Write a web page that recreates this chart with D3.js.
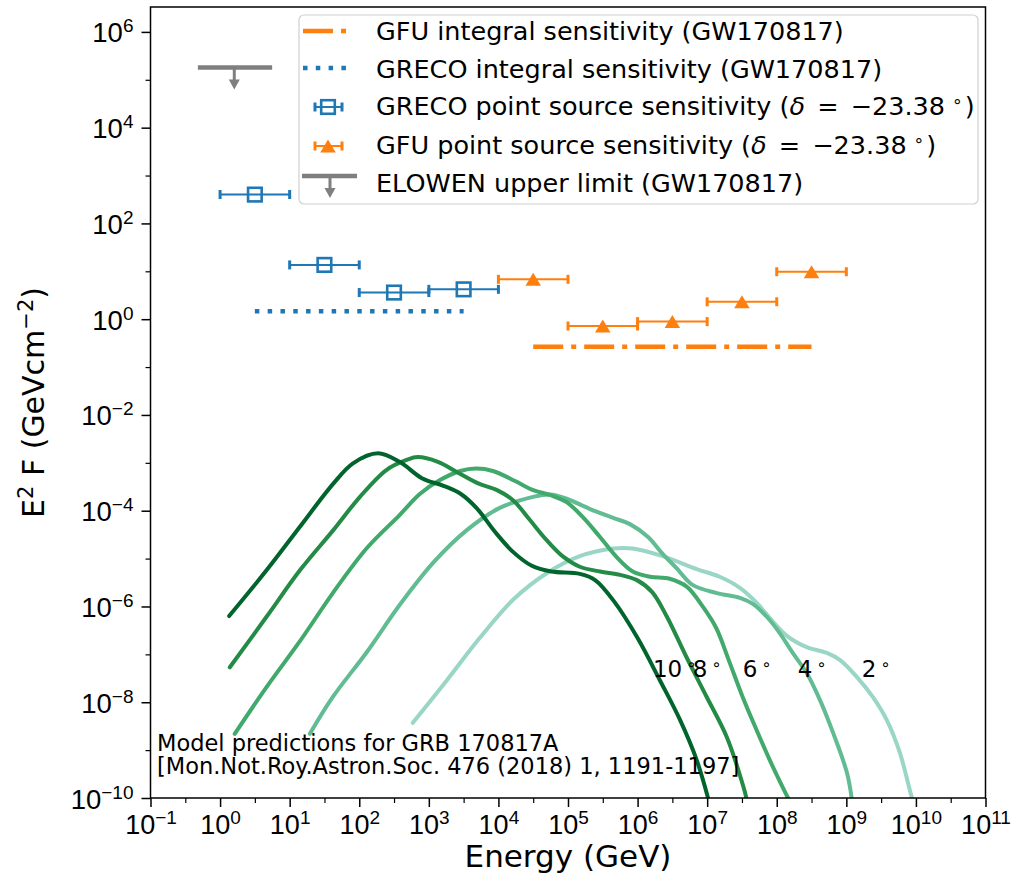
<!DOCTYPE html>
<html>
<head>
<meta charset="utf-8">
<script src="https://cdn.jsdelivr.net/npm/d3@7"></script>
<style>
  html, body { margin: 0; padding: 0; background: #fff; }
  svg { display: block; font-family: "DejaVu Sans", sans-serif; }
</style>
</head>
<body>
<svg id="chart" width="1013" height="878"></svg>
<script>
// ---- Model predictions for GRB 170817A, E^2 F versus energy, per viewing angle.
// Values are stored as log10(E / GeV) and log10(E^2 F / GeV cm^-2).
const angleDeg = [10, 8, 6, 4, 2];

const logE_10 = [0.13, 0.67, 1.15, 1.63, 1.91, 2.27, 2.58, 2.90, 3.21, 3.45, 3.69, 3.95, 4.21, 4.48, 4.76, 5.17, 5.39, 5.67, 6.00, 6.32, 6.61, 6.85, 7.02];
const logF_10 = [-6.20, -5.24, -4.33, -3.43, -3.01, -2.80, -2.98, -3.32, -3.48, -3.64, -3.95, -4.44, -4.86, -5.15, -5.27, -5.32, -5.45, -5.91, -6.66, -7.54, -8.37, -9.21, -10.04];

const logE_8 = [0.14, 0.67, 1.15, 1.63, 2.01, 2.39, 2.68, 2.84, 3.13, 3.40, 3.71, 3.98, 4.21, 4.45, 4.69, 4.93, 5.17, 5.46, 5.75, 5.99, 6.21, 6.42, 6.70, 6.99, 7.28, 7.52, 7.57];
const logF_8 = [-7.27, -6.21, -5.24, -4.40, -3.71, -3.15, -2.94, -2.88, -2.98, -3.19, -3.43, -3.57, -3.78, -4.19, -4.61, -4.96, -5.17, -5.27, -5.34, -5.45, -5.70, -6.21, -7.05, -7.88, -8.72, -9.76, -10.04];

const logE_6 = [0.21, 0.67, 1.15, 1.62, 2.11, 2.58, 2.87, 3.16, 3.45, 3.68, 3.92, 4.24, 4.50, 4.74, 4.98, 5.21, 5.46, 5.70, 5.93, 6.18, 6.46, 6.71, 6.94, 7.13, 7.31, 7.51, 7.71, 7.90, 8.07, 8.19];
const logF_6 = [-8.66, -7.68, -6.72, -5.72, -4.78, -4.09, -3.65, -3.36, -3.17, -3.12, -3.17, -3.38, -3.57, -3.67, -3.82, -4.13, -4.55, -4.97, -5.27, -5.38, -5.42, -5.59, -6.01, -6.45, -7.12, -7.89, -8.58, -9.21, -9.73, -10.08];

const logE_4 = [1.29, 1.62, 2.11, 2.58, 3.06, 3.55, 4.02, 4.50, 4.74, 4.98, 5.31, 5.65, 5.89, 6.15, 6.36, 6.56, 6.79, 7.14, 7.47, 7.66, 7.86, 8.04, 8.23, 8.43, 8.62, 8.81, 9.01, 9.08];
const logF_4 = [-8.66, -7.89, -6.95, -5.97, -5.09, -4.40, -3.94, -3.71, -3.66, -3.75, -3.96, -4.15, -4.28, -4.55, -4.90, -5.20, -5.55, -5.72, -5.82, -5.95, -6.22, -6.55, -6.97, -7.39, -7.95, -8.64, -9.48, -10.04];

const logE_2 = [2.77, 3.26, 3.73, 4.21, 4.70, 5.17, 5.65, 5.93, 6.36, 6.85, 7.18, 7.47, 7.71, 7.94, 8.15, 8.43, 8.72, 8.91, 9.15, 9.38, 9.58, 9.77, 9.94, 9.97];
const logF_2 = [-8.43, -7.54, -6.66, -5.86, -5.30, -4.95, -4.79, -4.79, -4.95, -5.22, -5.38, -5.61, -5.92, -6.31, -6.62, -6.85, -6.97, -7.12, -7.47, -7.89, -8.37, -9.06, -9.98, -10.10];

const curveColors = ["#00642c", "#238b45", "#41a96b", "#62bc93", "#9ad6c5"];

// Where each angle label sits (energy in GeV, E^2F in GeV cm^-2)
const angleLabelE = [1.66e6, 6.2e6, 3.24e7, 2.0e8, 1.66e9];
const angleLabelF = 3.4e-8;

// ---- IceCube sensitivities (GW170817)
const grecoLo = [1, 10, 100, 1000];
const grecoHi = [10, 100, 1000, 10000];
const grecoE  = [3.16, 31.6, 316, 3162];
const grecoF  = [400, 13.6, 3.6, 4.2];

const gfuLo = [1e4, 1e5, 1e6, 1e7, 1e8];
const gfuHi = [1e5, 1e6, 1e7, 1e8, 1e9];
const gfuE  = [3.16e4, 3.16e5, 3.16e6, 3.16e7, 3.16e8];
const gfuF  = [6.8, 0.72, 0.89, 2.3, 9.8];

const grecoIntegralE = [3.16, 3162];
const grecoIntegralF = 1.47;
const gfuIntegralE = [3.16e4, 3.16e8];
const gfuIntegralF = 0.267;

const elowenLo = 0.48, elowenHi = 5.6, elowenE = 1.6, elowenF = 1.8e5;

// ---- Axis ticks (decade exponents)
const xTickExp = [-1, 0, 1, 2, 3, 4, 5, 6, 7, 8, 9, 10, 11];
const yTickExp = [-10, -8, -6, -4, -2, 0, 2, 4, 6];
const yMinorExp = [-9, -7, -5, -3, -1, 1, 3, 5];

const legendLabels = [
  "GFU integral sensitivity (GW170817)",
  "GRECO integral sensitivity (GW170817)",
  "GRECO point source sensitivity",
  "GFU point source sensitivity",
  "ELOWEN upper limit (GW170817)"
];

// ---- Colours
const BLUE = "#1f77b4", ORANGE = "#ff7f0e", GRAY = "#7f7f7f";

// ---- Layout
const svg = d3.select("#chart");
const L = 150.5, R = 985.5, T = 7, B = 798;
const x = d3.scaleLog().domain([1e-1, 1e11]).range([L, R]);
const y = d3.scaleLog().domain([1e-10, Math.pow(10, 6.52)]).range([B, T]);

svg.append("defs").append("clipPath").attr("id", "plotClip")
  .append("rect").attr("x", L).attr("y", T).attr("width", R - L).attr("height", B - T);

const plot = svg.append("g").attr("clip-path", "url(#plotClip)");

// ---- Model curves
const curveSets = [
  [logE_10, logF_10], [logE_8, logF_8], [logE_6, logF_6], [logE_4, logF_4], [logE_2, logF_2]
];
const line = d3.line()
  .x(d => x(Math.pow(10, d[0])))
  .y(d => y(Math.pow(10, d[1])))
  .curve(d3.curveCatmullRom.alpha(0.5));

curveSets.map((c, i) => ({ pts: c[0].map((e, k) => [e, c[1][k]]), i }))
  .reverse()
  .forEach(({ pts, i }) => {
    plot.append("path")
      .attr("d", line(pts))
      .attr("fill", "none")
      .attr("stroke", curveColors[i])
      .attr("stroke-width", 4)
      .attr("stroke-linecap", "round")
      .attr("stroke-linejoin", "round");
  });

// ---- Integral sensitivities
plot.append("line")
  .attr("x1", x(grecoIntegralE[0])).attr("x2", x(grecoIntegralE[1]))
  .attr("y1", y(grecoIntegralF)).attr("y2", y(grecoIntegralF))
  .attr("stroke", BLUE).attr("stroke-width", 4.5).attr("stroke-dasharray", "4.5,8.3");

plot.append("line")
  .attr("x1", x(gfuIntegralE[0])).attr("x2", x(gfuIntegralE[1]))
  .attr("y1", y(gfuIntegralF)).attr("y2", y(gfuIntegralF))
  .attr("stroke", ORANGE).attr("stroke-width", 4.5).attr("stroke-dasharray", "30,8,5,8");

// ---- Error-bar helpers
function hErrorBar(g, x1, x2, yy, color) {
  g.append("line").attr("x1", x1).attr("x2", x2).attr("y1", yy).attr("y2", yy)
    .attr("stroke", color).attr("stroke-width", 2);
  [x1, x2].forEach(cx => g.append("line")
    .attr("x1", cx).attr("x2", cx).attr("y1", yy - 4.5).attr("y2", yy + 4.5)
    .attr("stroke", color).attr("stroke-width", 3));
}
function squareMark(g, cx, cy, color) {
  g.append("rect").attr("x", cx - 6.8).attr("y", cy - 6.8).attr("width", 13.6).attr("height", 13.6)
    .attr("fill", "none").attr("stroke", color).attr("stroke-width", 2.6);
}
function triangleMark(g, cx, cy, color) {
  const h = 13, w = 15.5;
  g.append("path")
    .attr("d", `M${cx},${cy - h / 2}L${cx + w / 2},${cy + h / 2}L${cx - w / 2},${cy + h / 2}Z`)
    .attr("fill", color);
}
function upperLimit(g, x1, x2, cx, cy, color) {
  g.append("line").attr("x1", x1).attr("x2", x2).attr("y1", cy).attr("y2", cy)
    .attr("stroke", color).attr("stroke-width", 4.5);
  g.append("line").attr("x1", cx).attr("x2", cx).attr("y1", cy).attr("y2", cy + 14)
    .attr("stroke", color).attr("stroke-width", 3);
  g.append("path").attr("d", `M${cx - 5.5},${cy + 12}L${cx + 5.5},${cy + 12}L${cx},${cy + 22}Z`)
    .attr("fill", color);
}

// ---- GRECO point source sensitivity
grecoE.forEach((e, i) => {
  hErrorBar(plot, x(grecoLo[i]), x(grecoHi[i]), y(grecoF[i]), BLUE);
  squareMark(plot, x(e), y(grecoF[i]), BLUE);
});

// ---- GFU point source sensitivity
gfuE.forEach((e, i) => {
  hErrorBar(plot, x(gfuLo[i]), x(gfuHi[i]), y(gfuF[i]), ORANGE);
  triangleMark(plot, x(e), y(gfuF[i]), ORANGE);
});

// ---- ELOWEN upper limit
upperLimit(plot, x(elowenLo), x(elowenHi), x(elowenE), y(elowenF), GRAY);

// ---- Angle labels
angleDeg.forEach((a, i) => {
  const t = svg.append("text")
    .attr("x", x(angleLabelE[i])).attr("y", y(angleLabelF))
    .attr("font-size", 23).attr("fill", "#000");
  t.append("tspan").text(String(a));
  t.append("tspan").attr("dx", 4).attr("dy", -7).attr("font-size", 16).text("\u2218");
});

// ---- Reference annotation
const note = svg.append("text").attr("x", 157).attr("y", 751).attr("font-size", 22.5).attr("fill", "#000");
note.append("tspan").attr("x", 157).text("Model predictions for GRB 170817A");
note.append("tspan").attr("x", 157).attr("dy", 23).text("[Mon.Not.Roy.Astron.Soc. 476 (2018) 1, 1191-1197]");

// ---- Axes
const fmtExp = p => (p < 0 ? "\u2212" + Math.abs(p) : String(p));

const gx = svg.append("g").attr("transform", `translate(0,${B})`)
  .call(d3.axisBottom(x).tickValues(xTickExp.map(p => Math.pow(10, p))).tickSize(9).tickFormat(() => ""));
gx.select(".domain").remove();
gx.selectAll(".tick line").attr("stroke", "#000").attr("stroke-width", 1.5);
gx.selectAll(".tick text").remove();
gx.selectAll(".tick").each(function (d, i) {
  const t = d3.select(this).append("text").attr("y", 36).attr("text-anchor", "middle")
    .attr("font-size", 27).attr("fill", "#000");
  t.append("tspan").text("10");
  t.append("tspan").attr("dy", -10).attr("font-size", 19).text(fmtExp(xTickExp[i]));
});

const gxm = svg.append("g").attr("transform", `translate(0,${B})`)
  .call(d3.axisBottom(x).tickValues(xTickExp.slice(0, -1).map(p => Math.pow(10, p + 0.5))).tickSize(5).tickFormat(() => ""));
gxm.select(".domain").remove();
gxm.selectAll(".tick line").attr("stroke", "#000").attr("stroke-width", 1.2);

const gy = svg.append("g").attr("transform", `translate(${L},0)`)
  .call(d3.axisLeft(y).tickValues(yTickExp.map(p => Math.pow(10, p))).tickSize(9).tickFormat(() => ""));
gy.select(".domain").remove();
gy.selectAll(".tick line").attr("stroke", "#000").attr("stroke-width", 1.5);
gy.selectAll(".tick text").remove();
gy.selectAll(".tick").each(function (d, i) {
  const t = d3.select(this).append("text").attr("x", -17).attr("y", 10).attr("text-anchor", "end")
    .attr("font-size", 27.5).attr("fill", "#000");
  t.append("tspan").text("10");
  t.append("tspan").attr("dy", -10).attr("font-size", 19).text(fmtExp(yTickExp[i]));
});

const gym = svg.append("g").attr("transform", `translate(${L},0)`)
  .call(d3.axisLeft(y).tickValues(yMinorExp.map(p => Math.pow(10, p))).tickSize(5).tickFormat(() => ""));
gym.select(".domain").remove();
gym.selectAll(".tick line").attr("stroke", "#000").attr("stroke-width", 1.2);

// Frame
svg.append("rect").attr("x", L).attr("y", T).attr("width", R - L).attr("height", B - T)
  .attr("fill", "none").attr("stroke", "#000").attr("stroke-width", 1.5);

// Axis titles
svg.append("text").attr("x", (L + R) / 2).attr("y", 867).attr("text-anchor", "middle")
  .attr("font-size", 31).attr("fill", "#000").text("Energy (GeV)");

const yl = svg.append("text").attr("transform", `translate(44,${(T + B) / 2}) rotate(-90)`)
  .attr("text-anchor", "middle").attr("font-size", 30).attr("fill", "#000");
yl.append("tspan").text("E");
yl.append("tspan").attr("dy", -11).attr("font-size", 21).text("2");
yl.append("tspan").attr("dy", 11).text(" F (GeVcm");
yl.append("tspan").attr("dy", -11).attr("font-size", 21).text("\u22122");
yl.append("tspan").attr("dy", 11).text(")");

// ---- Legend
const lg = svg.append("g");
lg.append("rect").attr("x", 299).attr("y", 15).attr("width", 679).attr("height", 189).attr("rx", 5)
  .attr("fill", "#fff").attr("fill-opacity", 0.85).attr("stroke", "#d0d0d0").attr("stroke-width", 1.2);

const rowY = [31, 68, 107, 146, 176];
const textY = [40, 78, 115, 154, 192];
const hcx = 328;

lg.append("line").attr("x1", 303).attr("x2", 353).attr("y1", rowY[0]).attr("y2", rowY[0])
  .attr("stroke", ORANGE).attr("stroke-width", 4.5).attr("stroke-dasharray", "30,8,5,8");
lg.append("line").attr("x1", 303).attr("x2", 353).attr("y1", rowY[1]).attr("y2", rowY[1])
  .attr("stroke", BLUE).attr("stroke-width", 4.5).attr("stroke-dasharray", "4.5,8.3");
hErrorBar(lg, 315, 342, rowY[2], BLUE);
squareMark(lg, hcx, rowY[2], BLUE);
hErrorBar(lg, 315, 342, rowY[3], ORANGE);
triangleMark(lg, hcx, rowY[3], ORANGE);
upperLimit(lg, 302, 357, 330, rowY[4], GRAY);

legendLabels.forEach((s, i) => {
  const t = lg.append("text").attr("x", 376).attr("y", textY[i]).attr("font-size", 25.5).attr("fill", "#000");
  t.append("tspan").text(s);
  if (i === 2 || i === 3) {
    t.append("tspan").text(" (");
    t.append("tspan").attr("font-style", "italic").text("\u03b4");
    t.append("tspan").attr("dx", 4).text(" = ");
    t.append("tspan").attr("dx", 4).text("\u221223.38");
    t.append("tspan").attr("dx", 7).attr("dy", -8).attr("font-size", 17).text("\u2218");
    t.append("tspan").attr("dx", 2).attr("dy", 8).text(")");
  }
});
</script>
</body>
</html>
